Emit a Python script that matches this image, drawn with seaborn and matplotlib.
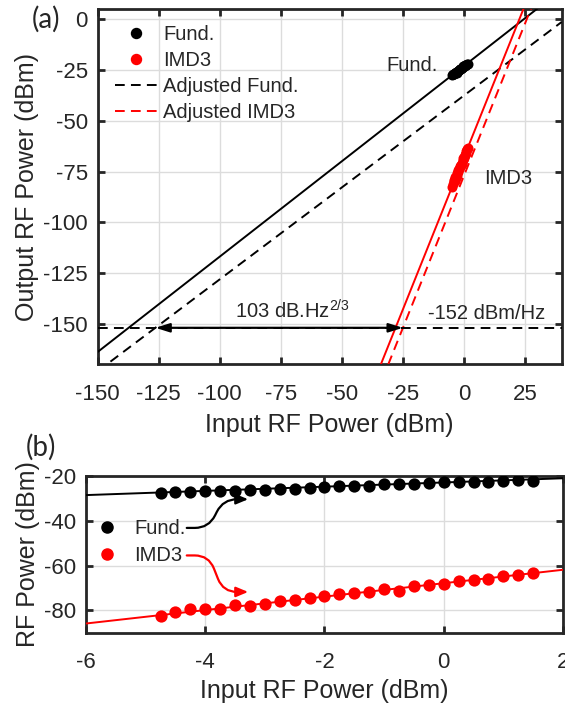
import numpy as np
import pandas as pd
import matplotlib
matplotlib.use("Agg")
import matplotlib.pyplot as plt
import seaborn as sns
from matplotlib.lines import Line2D

# ---------------- data ----------------
input_power = [-4.75, -4.5, -4.25, -4.0, -3.75, -3.5, -3.25, -3.0, -2.75, -2.5,
               -2.25, -2.0, -1.75, -1.5, -1.25, -1.0, -0.75, -0.5, -0.25, 0.0,
               0.25, 0.5, 0.75, 1.0, 1.25, 1.5]
fund_power = [-27.4, -27.1, -27.1, -26.8, -26.5, -26.6, -26.1, -26.2, -25.8, -25.6,
              -25.5, -25.0, -24.3, -24.4, -24.4, -23.8, -23.7, -23.5, -23.1, -22.8,
              -22.8, -22.6, -22.6, -22.4, -21.9, -22.1]
imd3_power = [-82.6, -80.9, -79.6, -79.2, -79.6, -77.7, -78.0, -77.4, -75.9, -75.3,
              -74.3, -73.6, -72.7, -72.1, -71.8, -70.7, -71.2, -69.3, -68.5, -68.1,
              -67.0, -66.6, -65.9, -64.7, -64.1, -63.3]

fund_fit = (0.94, -22.9)        # slope, intercept
adj_fund_fit = (0.906, -37.5)
imd3_fit = (3.0, -67.9)
adj_imd3_fit = (3.0, -77.0)
noise_floor = -152

xticks_a = [-150, -125, -100, -75, -50, -25, 0, 25]
yticks_a = [0, -25, -50, -75, -100, -125, -150]
xticks_b = [-6, -4, -2, 0, 2]
yticks_b = [-20, -40, -60, -80]

# ---------------- style ----------------
sns.set_theme(style="whitegrid")
plt.rcParams["font.family"] = ["Liberation Sans", "DejaVu Sans"]
plt.rcParams["axes.unicode_minus"] = False
plt.rcParams["mathtext.fontset"] = "custom"
plt.rcParams["mathtext.rm"] = "Liberation Sans"
plt.rcParams["mathtext.it"] = "Liberation Sans"

TICK_FS = 16
LABEL_FS = 18
ANN_FS = 14.5
SPINE = "#262626"
GRID = "#dcdcdc"
MS = 52

df = pd.DataFrame({"pin": input_power, "fund": fund_power, "imd3": imd3_power})

fig = plt.figure(figsize=(5.65, 7.04), dpi=100)
ax1 = fig.add_axes([0.1729, 0.4825, 0.8212, 0.5043])
ax2 = fig.add_axes([0.1522, 0.1013, 0.8442, 0.2226])


def style_axes(ax):
    for s in ax.spines.values():
        s.set_color(SPINE)
        s.set_linewidth(2.0)
        s.set_visible(True)
    ax.grid(True, color=GRID, linewidth=1.0)
    ax.tick_params(direction="in", length=5, width=2.0, color=SPINE,
                   top=True, right=True, bottom=True, left=True,
                   labelsize=TICK_FS, labelcolor="#262626", pad=7)
    ax.tick_params(axis="x", pad=14)
    ax.set_facecolor("white")


def fit_line(ax, fit, xr, color, ls):
    xs = np.array(xr, dtype=float)
    ys = fit[0] * xs + fit[1]
    sns.lineplot(x=xs, y=ys, ax=ax, color=color, linestyle=ls, linewidth=1.4,
                 legend=False, zorder=3)
    line = ax.get_lines()[-1]
    if ls == "--":
        line.set_dashes((5, 3.2))
    return line


# ---------------- panel (a) ----------------
xr_a = (-150, 40)
fit_line(ax1, fund_fit, xr_a, "black", "-")
fit_line(ax1, adj_fund_fit, xr_a, "black", "--")
fit_line(ax1, imd3_fit, xr_a, "red", "-")
fit_line(ax1, adj_imd3_fit, xr_a, "red", "--")
ax1.axhline(noise_floor, color="black", linestyle=(0, (5, 3.2)), linewidth=1.4, zorder=3)

sns.scatterplot(data=df, x="pin", y="fund", ax=ax1, color="black", s=MS,
                linewidth=0, zorder=4, legend=False)
sns.scatterplot(data=df, x="pin", y="imd3", ax=ax1, color="red", s=MS,
                linewidth=0, zorder=4, legend=False)

x_left = (noise_floor - adj_fund_fit[1]) / adj_fund_fit[0]
x_right = (noise_floor - adj_imd3_fit[1]) / adj_imd3_fit[0]
ax1.annotate("", xy=(x_left, noise_floor), xytext=(x_right, noise_floor),
             arrowprops=dict(arrowstyle="<|-|>,head_length=0.7,head_width=0.22",
                             color="black", lw=1.6, shrinkA=0, shrinkB=0),
             zorder=5)
ax1.text(-70.3, -143.5, "103 dB.Hz$^{\\mathregular{2/3}}$", ha="center", va="center",
         fontsize=ANN_FS)
ax1.text(-14.8, -145, "-152 dBm/Hz", ha="left", va="center", fontsize=ANN_FS)
ax1.text(-31.6, -22.6, "Fund.", ha="left", va="center", fontsize=ANN_FS)
ax1.text(8.4, -78.2, "IMD3", ha="left", va="center", fontsize=ANN_FS)

ax1.set_xlim(-150, 40)
ax1.set_ylim(-170, 5)
ax1.set_xticks(xticks_a)
ax1.set_yticks(yticks_a)
style_axes(ax1)
ax1.set_xlabel("Input RF Power (dBm)", fontsize=LABEL_FS, labelpad=6)
ax1.set_ylabel("Output RF Power (dBm)", fontsize=LABEL_FS, labelpad=3)

handles_a = [
    Line2D([], [], marker="o", color="black", linestyle="none", markersize=7.2),
    Line2D([], [], marker="o", color="red", linestyle="none", markersize=7.2),
    Line2D([], [], color="black", linestyle=(0, (5, 3.2)), linewidth=1.4),
    Line2D([], [], color="red", linestyle=(0, (5, 3.2)), linewidth=1.4),
]
ax1.legend(handles_a, ["Fund.", "IMD3", "Adjusted Fund.", "Adjusted IMD3"],
           loc="upper left", bbox_to_anchor=(0.037, 0.955), frameon=False,
           fontsize=ANN_FS, handlelength=2.1, handletextpad=0.3,
           labelspacing=0.35, borderpad=0, borderaxespad=0)

fig.text(0.056, 0.973, "(a)", fontsize=20, family=["Lato", "DejaVu Sans"],
         ha="left", va="center")

# ---------------- panel (b) ----------------
xr_b = (-6, 2)
fit_line(ax2, fund_fit, xr_b, "black", "-")
fit_line(ax2, imd3_fit, xr_b, "red", "-")
sns.scatterplot(data=df, x="pin", y="fund", ax=ax2, color="black", s=MS * 1.5,
                linewidth=0, zorder=4, legend=False)
sns.scatterplot(data=df, x="pin", y="imd3", ax=ax2, color="red", s=MS * 1.5,
                linewidth=0, zorder=4, legend=False)

ax2.set_xlim(-6, 2)
ax2.set_ylim(-90, -20)
ax2.set_xticks(xticks_b)
ax2.set_yticks(yticks_b)
style_axes(ax2)
ax2.set_xlabel("Input RF Power (dBm)", fontsize=LABEL_FS, labelpad=4)
ax2.set_ylabel("RF Power (dBm)", fontsize=LABEL_FS, labelpad=3)

handles_b = [
    Line2D([], [], marker="o", color="black", linestyle="none", markersize=8),
    Line2D([], [], marker="o", color="red", linestyle="none", markersize=8),
]
ax2.legend(handles_b, ["Fund.", "IMD3"], loc="upper left",
           bbox_to_anchor=(0.0, 0.725), frameon=False, fontsize=ANN_FS,
           handlelength=2.1, handletextpad=0.3, labelspacing=0.4,
           borderpad=0, borderaxespad=0)

ax2.annotate("", xy=(-3.28, -30.4), xytext=(-4.31, -43.2),
             arrowprops=dict(arrowstyle="-|>,head_length=0.6,head_width=0.25",
                             color="black", lw=1.6, shrinkA=0, shrinkB=0,
                             connectionstyle="arc,angleA=0,angleB=180,armA=22,armB=25,rad=14"))
ax2.annotate("", xy=(-3.28, -71.8), xytext=(-4.31, -55.5),
             arrowprops=dict(arrowstyle="-|>,head_length=0.6,head_width=0.25",
                             color="red", lw=1.6, shrinkA=0, shrinkB=0,
                             connectionstyle="arc,angleA=0,angleB=180,armA=22,armB=25,rad=14"))

fig.text(0.045, 0.364, "(b)", fontsize=20, family=["Lato", "DejaVu Sans"],
         ha="left", va="center")

fig.savefig("out.png", dpi=100, facecolor="white")
